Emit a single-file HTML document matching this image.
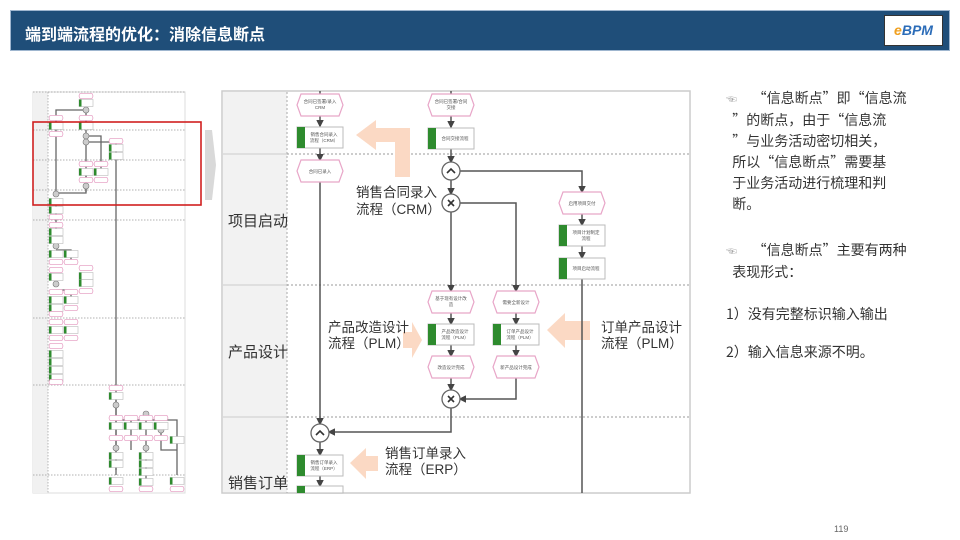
<!DOCTYPE html>
<html><head><meta charset="utf-8"><style>
html,body{margin:0;padding:0;background:#fff;}
body{width:960px;height:540px;position:relative;overflow:hidden;font-family:"Liberation Sans","Noto Sans CJK SC",sans-serif;}
.hdr{position:absolute;left:10px;top:10px;width:940px;height:41px;background:#1f4e79;border:1px solid #9fb6cf;box-sizing:border-box;}
.hdr .t{position:absolute;left:14px;top:10px;color:#fff;font-size:16px;font-weight:bold;}
.logo{position:absolute;left:873px;top:4px;width:59px;height:31px;background:#fff;border:1px solid #333;box-sizing:border-box;font:bold italic 14px "Liberation Sans",sans-serif;color:#2b6cb8;text-align:center;line-height:29px;}
.logo span{color:#f0a020;}
.txt{position:absolute;left:726px;font-size:14px;color:#333;line-height:21px;font-family:"Noto Sans CJK SC",sans-serif;white-space:nowrap;}
.pg{position:absolute;left:834px;top:524px;font-size:9px;color:#666;}
</style></head><body>
<div class="hdr"><div class="t">端到端流程的优化：消除信息断点</div><div class="logo"><span>e</span>BPM</div></div>

<svg width="960" height="540" style="position:absolute;left:0;top:0" xmlns="http://www.w3.org/2000/svg">
<defs>
<marker id="a" markerWidth="5" markerHeight="5" refX="4" refY="2.5" orient="auto"><path d="M0,0L5,2.5L0,5z" fill="#444"/></marker>
<g id="hex"><path d="M-19,-11 L19,-11 L23,0 L19,11 L-19,11 L-23,0Z" fill="#fff" stroke="#e8a6c8" stroke-width="1.2"/></g>
<g id="task"><rect x="-23" y="-10" width="46" height="21" fill="#fff" stroke="#bbb"/><rect x="-23" y="-10" width="8" height="21" fill="#2e8b2e"/></g>
<g id="sh"><path d="M-6,-2.5L6,-2.5L7,0L6,2.5L-6,2.5L-7,0Z" fill="#fff" stroke="#e8a6c8" stroke-width="0.8"/></g>
<g id="st"><rect x="-7" y="-3.5" width="14" height="7" fill="#fff" stroke="#bbb" stroke-width="0.6"/><rect x="-7" y="-3.5" width="2.5" height="7" fill="#2e8b2e"/></g>
</defs>

<!-- thumbnail -->
<rect x="33" y="92" width="152" height="401" fill="#fff" stroke="#ddd"/>
<rect x="33" y="92" width="15" height="401" fill="#f1f1f1"/>
<g stroke="#999" stroke-width="0.7" stroke-dasharray="1.5,1.5">
<line x1="48" y1="92" x2="48" y2="493"/>
<line x1="33" y1="130" x2="185" y2="130"/><line x1="33" y1="160" x2="185" y2="160"/><line x1="33" y1="190" x2="185" y2="190"/><line x1="33" y1="220" x2="185" y2="220"/><line x1="33" y1="318" x2="185" y2="318"/><line x1="33" y1="385" x2="185" y2="385"/><line x1="33" y1="475" x2="185" y2="475"/><line x1="33" y1="92" x2="185" y2="92"/>
</g>
<g stroke="#666" stroke-width="1.3" fill="none">
<path d="M86,110 V125"/><path d="M86,110 H56 V193 H86 V175"/><path d="M86,130 V192"/>
<path d="M86,136 H101 V170"/><path d="M86,142 H116 V475"/>
<path d="M56,200 V230 M56,250 H71 V260 M56,290 H71 V300"/>
<path d="M116,395 V420 H177 V475 M116,420 V470 M131,420 V450 M146,420 V480 M161,430 V450 H177"/>
</g>
<g fill="#ccc" stroke="#777" stroke-width="0.6">
<circle cx="86" cy="110" r="3"/><circle cx="86" cy="136" r="3"/><circle cx="86" cy="142" r="3"/><circle cx="86" cy="186" r="3"/><circle cx="56" cy="194" r="3"/>
<circle cx="56" cy="246" r="3"/><circle cx="56" cy="284" r="3"/><circle cx="116" cy="405" r="3"/><circle cx="146" cy="414" r="3"/><circle cx="161" cy="430" r="3"/><circle cx="116" cy="448" r="3"/><circle cx="146" cy="448" r="3"/>
</g>
<g>
<use href="#sh" x="86" y="96"/><use href="#st" x="86" y="103"/><use href="#sh" x="56" y="118"/><use href="#sh" x="86" y="118"/><use href="#st" x="56" y="126"/><use href="#st" x="86" y="126"/><use href="#sh" x="56" y="134"/>
<use href="#sh" x="116" y="141"/><use href="#st" x="116" y="148"/><use href="#st" x="116" y="156"/>
<use href="#sh" x="86" y="164"/><use href="#sh" x="101" y="164"/><use href="#st" x="86" y="172"/><use href="#st" x="101" y="172"/><use href="#sh" x="86" y="180"/><use href="#sh" x="101" y="180"/>
<use href="#st" x="56" y="202"/><use href="#st" x="56" y="210"/><use href="#sh" x="56" y="217"/>
<use href="#sh" x="56" y="225"/><use href="#st" x="56" y="232"/><use href="#st" x="56" y="240"/><use href="#st" x="56" y="254"/><use href="#st" x="71" y="254"/><use href="#sh" x="56" y="262"/><use href="#sh" x="71" y="262"/>
<use href="#sh" x="56" y="270"/><use href="#st" x="56" y="277"/><use href="#sh" x="86" y="268"/><use href="#st" x="86" y="276"/><use href="#st" x="86" y="283"/><use href="#sh" x="86" y="291"/>
<use href="#sh" x="56" y="292"/><use href="#sh" x="71" y="292"/><use href="#st" x="56" y="300"/><use href="#st" x="71" y="300"/><use href="#st" x="56" y="308"/><use href="#sh" x="71" y="308"/><use href="#sh" x="56" y="314"/>
<use href="#sh" x="56" y="322"/><use href="#sh" x="71" y="322"/><use href="#st" x="56" y="330"/><use href="#st" x="71" y="330"/><use href="#sh" x="56" y="338"/><use href="#sh" x="71" y="338"/>
<use href="#sh" x="56" y="346"/><use href="#st" x="56" y="354"/><use href="#st" x="56" y="362"/><use href="#st" x="56" y="370"/><use href="#st" x="56" y="378"/><use href="#sh" x="56" y="382"/>
<use href="#sh" x="116" y="388"/><use href="#st" x="116" y="396"/>
<use href="#sh" x="116" y="418"/><use href="#sh" x="131" y="418"/><use href="#sh" x="146" y="418"/><use href="#sh" x="161" y="418"/><use href="#st" x="116" y="426"/><use href="#st" x="131" y="426"/><use href="#st" x="146" y="426"/><use href="#st" x="161" y="426"/>
<use href="#sh" x="116" y="438"/><use href="#sh" x="131" y="438"/><use href="#sh" x="146" y="438"/><use href="#sh" x="161" y="438"/><use href="#st" x="177" y="440"/>
<use href="#st" x="116" y="456"/><use href="#st" x="116" y="464"/><use href="#st" x="146" y="456"/><use href="#st" x="146" y="464"/><use href="#st" x="146" y="472"/>
<use href="#st" x="116" y="481"/><use href="#sh" x="116" y="489"/><use href="#st" x="146" y="482"/><use href="#sh" x="146" y="489"/><use href="#st" x="177" y="481"/><use href="#sh" x="177" y="489"/>
</g>
<rect x="33" y="122" width="168" height="83" fill="none" stroke="#d02020" stroke-width="1.6"/>
<path d="M205,130 L212,130 L216,165 L212,200 L205,200Z" fill="#d9d9d9"/>

<!-- main diagram -->
<rect x="222" y="91" width="468" height="402" fill="#fff" stroke="#ccc" stroke-width="1.5"/>
<rect x="223" y="92" width="64" height="400" fill="#f2f2f2"/>
<g stroke="#aaa" stroke-width="1" stroke-dasharray="2,2">
<line x1="287" y1="92" x2="287" y2="493"/>
</g>
<g stroke="#ccc" stroke-width="1"><line x1="223" y1="154" x2="287" y2="154"/><line x1="223" y1="285" x2="287" y2="285"/><line x1="223" y1="417" x2="287" y2="417"/></g>
<g stroke="#999" stroke-width="1" stroke-dasharray="2,2"><line x1="287" y1="154" x2="689" y2="154"/><line x1="287" y1="285" x2="689" y2="285"/><line x1="287" y1="417" x2="689" y2="417"/></g>
<g font-size="15" fill="#333"><text x="228" y="226">项目启动</text><text x="228" y="357">产品设计</text><text x="228" y="488">销售订单</text></g>

<!-- peach arrows -->
<g fill="#fbd9c4">
<path d="M395,177 L410,177 L410,128 L376,128 L376,120 L356,135 L376,150 L376,142 L395,142Z"/>
<path d="M403,332 L412,332 L412,322 L422,340 L412,358 L412,348 L403,348Z"/>
<path d="M590,321 L565,321 L565,313 L547,330 L565,348 L565,340 L590,340Z"/>
<path d="M378,456 L366,456 L366,448 L350,463 L366,479 L366,471 L378,471Z"/>
</g>
<g font-size="13.5" fill="#333">
<text x="356" y="197">销售合同录入</text><text x="356" y="214">流程（CRM）</text>
<text x="328" y="332">产品改造设计</text><text x="328" y="348">流程（PLM）</text>
<text x="601" y="332">订单产品设计</text><text x="601" y="348">流程（PLM）</text>
<text x="385" y="458">销售订单录入</text><text x="385" y="474">流程（ERP）</text>
</g>

<!-- connectors -->
<g stroke="#555" stroke-width="1.5" fill="none">
<path d="M320,91 V94"/><path d="M451,91 V94"/>
<path d="M320,116 V126" marker-end="url(#a)"/><path d="M451,116 V127" marker-end="url(#a)"/>
<path d="M320,148 V160" marker-end="url(#a)"/><path d="M451,148 V162" marker-end="url(#a)"/>
<path d="M320,182 V424" marker-end="url(#a)"/>
<path d="M451,180 V194" marker-end="url(#a)"/>
<path d="M460,171 H582 V192" marker-end="url(#a)"/>
<path d="M451,212 V291" marker-end="url(#a)"/>
<path d="M460,203 H516 V291" marker-end="url(#a)"/>
<path d="M451,313 V324" marker-end="url(#a)"/><path d="M516,313 V324" marker-end="url(#a)"/>
<path d="M451,345 V356" marker-end="url(#a)"/><path d="M516,345 V356" marker-end="url(#a)"/>
<path d="M451,378 V390" marker-end="url(#a)"/>
<path d="M516,378 V399 H460" marker-end="url(#a)"/>
<path d="M451,408 V432 H329" marker-end="url(#a)"/>
<path d="M582,214 V225" marker-end="url(#a)"/><path d="M582,246 V258" marker-end="url(#a)"/>
<path d="M582,279 V493"/>
<path d="M320,442 V455" marker-end="url(#a)"/><path d="M320,476 V486" marker-end="url(#a)"/>
</g>
<g font-size="4.5" fill="#555" text-anchor="middle">
<use href="#hex" x="320" y="105"/><text x="320" y="103">合同已签署/录入</text><text x="320" y="109">CRM</text>
<use href="#task" x="320" y="137"/><text x="324" y="136">销售合同录入</text><text x="324" y="142">流程（CRM）</text>
<use href="#hex" x="320" y="171"/><text x="320" y="173">合同已录入</text>
<use href="#hex" x="451" y="105"/><text x="451" y="103">合同已签署/合同</text><text x="451" y="109">交接</text>
<use href="#task" x="451" y="138"/><text x="455" y="140">合同交接流程</text>
<use href="#hex" x="582" y="203"/><text x="582" y="205">启用项目交付</text>
<use href="#task" x="582" y="235"/><text x="586" y="234">项目计划制定</text><text x="586" y="240">流程</text>
<use href="#task" x="582" y="268"/><text x="586" y="270">项目启动流程</text>
<use href="#hex" x="451" y="302"/><text x="451" y="300">基于现有设计改</text><text x="451" y="306">造</text>
<use href="#hex" x="516" y="302"/><text x="516" y="304">需要全新设计</text>
<use href="#task" x="451" y="334"/><text x="455" y="333">产品改造设计</text><text x="455" y="339">流程（PLM）</text>
<use href="#task" x="516" y="334"/><text x="520" y="333">订单产品设计</text><text x="520" y="339">流程（PLM）</text>
<use href="#hex" x="451" y="367"/><text x="451" y="369">改造设计完成</text>
<use href="#hex" x="516" y="367"/><text x="516" y="369">新产品设计完成</text>
<use href="#task" x="320" y="465"/><text x="324" y="464">销售订单录入</text><text x="324" y="470">流程（ERP）</text>
<rect x="297" y="486" width="46" height="7" fill="#fff" stroke="#bbb"/><rect x="297" y="486" width="8" height="7" fill="#2e8b2e"/>
</g>
<g stroke="#666" stroke-width="1.3" fill="#fff">
<circle cx="451" cy="171" r="9"/><circle cx="451" cy="203" r="9"/><circle cx="451" cy="399" r="9"/><circle cx="320" cy="433" r="9"/>
</g>
<g stroke="#333" stroke-width="1.6" fill="none">
<path d="M447,173 L451,169 L455,173"/><path d="M316,435 L320,431 L324,435"/>
<path d="M448,200 L454,206 M454,200 L448,206"/><path d="M448,396 L454,402 M454,396 L448,402"/>
</g>
</svg>

<div class="txt" style="top:88px;"><span style="color:#999;font-size:11px">☜</span>&nbsp;&nbsp;&nbsp;&nbsp;&nbsp;“信息断点”即“信息流<br>&nbsp;&nbsp;”的断点，由于“信息流<br>&nbsp;&nbsp;”与业务活动密切相关，<br>&nbsp;&nbsp;所以“信息断点”需要基<br>&nbsp;&nbsp;于业务活动进行梳理和判<br>&nbsp;&nbsp;断。</div>
<div class="txt" style="top:240px;"><span style="color:#999;font-size:11px">☜</span>&nbsp;&nbsp;&nbsp;&nbsp;&nbsp;“信息断点”主要有两种<br>&nbsp;&nbsp;表现形式：</div>
<div class="txt" style="top:304px;">1）没有完整标识输入输出</div>
<div class="txt" style="top:342px;">2）输入信息来源不明。</div>
<div class="pg">119</div>
</body></html>
